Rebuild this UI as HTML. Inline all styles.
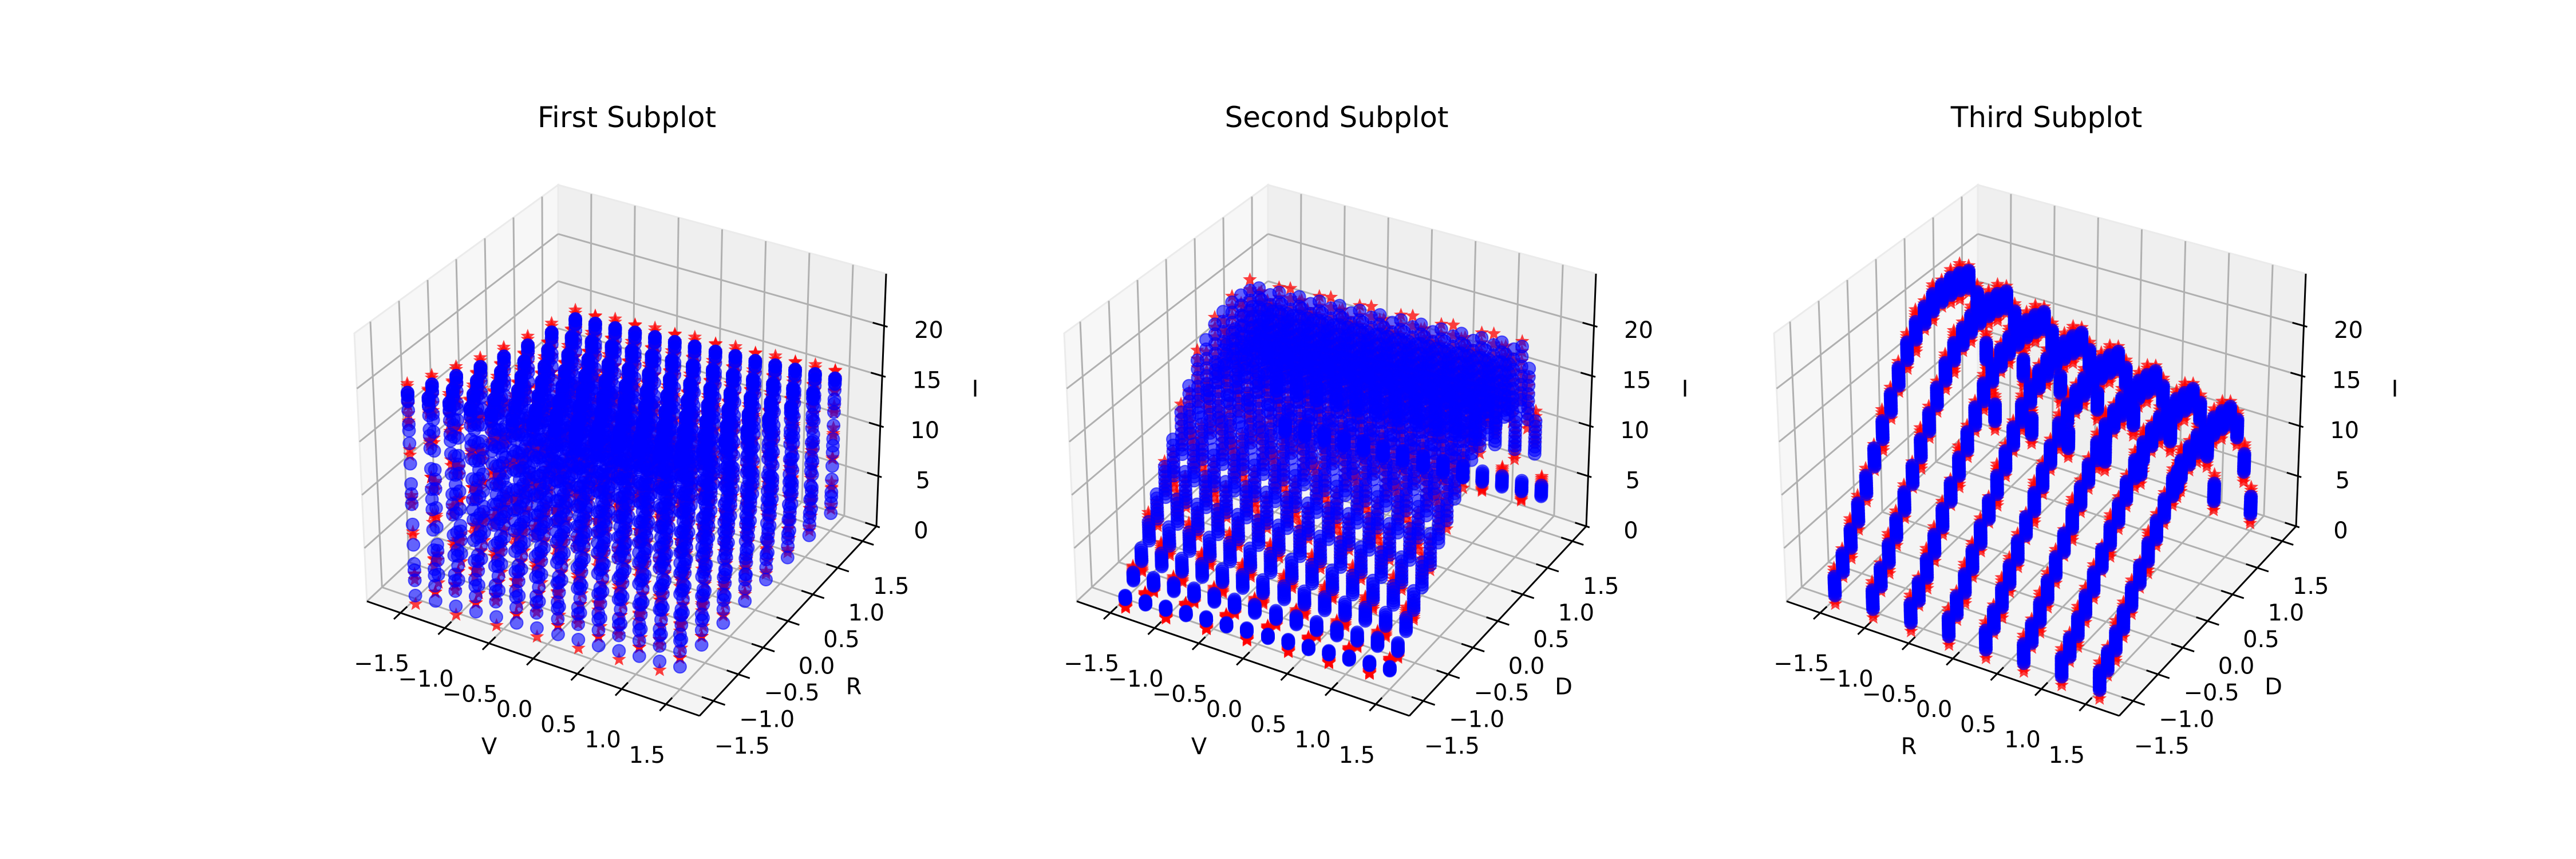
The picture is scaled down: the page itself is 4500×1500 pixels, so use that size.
<!DOCTYPE html>
<html><head><meta charset="utf-8"><style>
html,body{margin:0;padding:0;background:#fff;}
svg{display:block;font-family:"DejaVu Sans","Liberation Sans",sans-serif;}
</style></head><body>
<svg id="fig" xmlns="http://www.w3.org/2000/svg" width="4500" height="1500" viewBox="0 0 4500 1500">
<rect x="0" y="0" width="4500" height="1500" fill="#ffffff"/>
</svg>
<script>
// ---- data (standardised grid levels and measured I profiles) ----
const vLevels = [-1.5,-1.27,-1.04,-0.81,-0.58,-0.35,-0.12,0.12,0.35,0.58,0.81,1.04,1.27,1.5];
const rLevels = [-1.5,-1.07,-0.64,-0.21,0.21,0.64,1.07,1.5];
const dLevels = [-1.5,-1.34,-1.18,-1.03,-0.87,-0.71,-0.55,-0.39,-0.24,-0.08,0.08,0.24,0.39,0.55,0.71,0.87,1.03,1.18,1.34,1.5];
const dProfile = [1,2.2,3.5,5,6.6,8.2,9.8,11.4,13,14.5,15.6,16.3,16.8,17,17,16.8,16.4,14,9,3];
const rScale = [1.2,1.14,1.08,1.02,0.97,0.92,0.88,0.84];
const vShift = [-0.9,-0.75,-0.6,-0.45,-0.3,-0.2,-0.05,0.05,0.2,0.3,0.45,0.6,0.75,0.9];
const predOffset = [0.8,-0.6,1.0,-0.9,0.7,-0.5,1.1,-0.8,0.6,-1.0,1.2,-0.7,0.9,-0.6,0.8,-1.1,0.5,-0.9,1.0,0.9];
const xyTicks = [-1.5,-1.0,-0.5,0.0,0.5,1.0,1.5];
const xyTickLabels = ["\u22121.5","\u22121.0","\u22120.5","0.0","0.5","1.0","1.5"];
const zTicks = [0,5,10,15,20];
const zTickLabels = ["0","5","10","15","20"];
const titles = ["First Subplot","Second Subplot","Third Subplot"];
const xLabels = ["V","V","R"];
const yLabels = ["R","D","D"];

const NS = "http://www.w3.org/2000/svg";
const fig = document.getElementById('fig');
const XR=[-1.88,1.88], YR=[-1.78,1.78], ZR=[0,25.2];
const SHIFT=1240;
const C0={c000:[641,1050],c100:[1222,1250],c110:[1531,919],c010:[975,738],
          c001:[619,582],c101:[1224,770],c111:[1548,478],c011:[975,323]};
function lerp(a,b,t){return [a[0]+(b[0]-a[0])*t,a[1]+(b[1]-a[1])*t];}
function P(k,x,y,z){
  const u=(x-XR[0])/(XR[1]-XR[0]), w=(y-YR[0])/(YR[1]-YR[0]), t=(z-ZR[0])/(ZR[1]-ZR[0]);
  const b=lerp(lerp(C0.c000,C0.c100,u),lerp(C0.c010,C0.c110,u),w);
  const tp=lerp(lerp(C0.c001,C0.c101,u),lerp(C0.c011,C0.c111,u),w);
  const p=lerp(b,tp,t);
  return [p[0]+k*SHIFT,p[1]];
}
function el(tag,parent){const e=document.createElementNS(NS,tag);parent.appendChild(e);return e;}
function line(g,a,b,col,w){const e=el('line',g);e.setAttribute('x1',a[0].toFixed(1));e.setAttribute('y1',a[1].toFixed(1));e.setAttribute('x2',b[0].toFixed(1));e.setAttribute('y2',b[1].toFixed(1));e.setAttribute('stroke',col);e.setAttribute('stroke-width',w);return e;}
function poly(g,pts,fill){const e=el('polygon',g);e.setAttribute('points',pts.map(p=>p[0].toFixed(1)+','+p[1].toFixed(1)).join(' '));e.setAttribute('fill',fill);e.setAttribute('stroke','#ebebeb');e.setAttribute('stroke-width','3');return e;}
function text(g,s,p,size,anchor){const e=el('text',g);e.setAttribute('x',p[0].toFixed(1));e.setAttribute('y',p[1].toFixed(1));e.setAttribute('font-size',size);e.setAttribute('text-anchor',anchor||'middle');e.setAttribute('dominant-baseline','central');e.setAttribute('fill','#000');e.textContent=s;return e;}
function starPath(cx,cy,R,r){let d='';for(let i=0;i<10;i++){const a=-Math.PI/2+i*Math.PI/5;const rr=i%2?r:R;d+=(i?'L':'M')+(cx+rr*Math.cos(a)).toFixed(1)+' '+(cy+rr*Math.sin(a)).toFixed(1);}return d+'Z';}

function drawAxes(k){
  const g=el('g',fig);
  
  
  const [x0,x1]=XR,[y0,y1]=YR,[z0,z1]=ZR;
  const t=text(g,titles[k],[1095+k*SHIFT,205],50);
  
  
  const panes=el('g',g);
  
  
  poly(panes,[P(k,x0,y0,z0),P(k,x1,y0,z0),P(k,x1,y1,z0),P(k,x0,y1,z0)],'#f4f4f4');
  poly(panes,[P(k,x0,y0,z0),P(k,x0,y1,z0),P(k,x0,y1,z1),P(k,x0,y0,z1)],'#f7f7f7');
  poly(panes,[P(k,x0,y1,z0),P(k,x1,y1,z0),P(k,x1,y1,z1),P(k,x0,y1,z1)],'#efefef');
  const grid=el('g',g);
  
  
  const gc='#b0b0b0',gw=3;
  xyTicks.forEach(v=>{
    line(grid,P(k,v,y0,z0),P(k,v,y1,z0),gc,gw);
    line(grid,P(k,v,y1,z0),P(k,v,y1,z1),gc,gw);
    line(grid,P(k,x0,v,z0),P(k,x1,v,z0),gc,gw);
    line(grid,P(k,x0,v,z0),P(k,x0,v,z1),gc,gw);
  });
  zTicks.forEach(v=>{
    line(grid,P(k,x0,y0,v),P(k,x0,y1,v),gc,gw);
    line(grid,P(k,x0,y1,v),P(k,x1,y1,v),gc,gw);
  });
  const ax=el('g',g);
  
  
  line(ax,P(k,x0,y0,z0),P(k,x1,y0,z0),'#000',3);
  line(ax,P(k,x1,y0,z0),P(k,x1,y1,z0),'#000',3);
  line(ax,P(k,x1,y1,z0),P(k,x1,y1,z1),'#000',3);
  const dy=(y1-y0)*0.035,dx=(x1-x0)*0.035;
  xyTicks.forEach((v,i)=>{
    const a=P(k,v,y0,z0);
    line(ax,P(k,v,y0+dy,z0),P(k,v,y0-dy,z0),'#000',3);
    const tl=text(ax,xyTickLabels[i],[a[0]-33,a[1]+89],40);
    
    
    const b=P(k,x1,v,z0);
    line(ax,P(k,x1-dx,v,z0),P(k,x1+dx,v,z0),'#000',3);
    const yl=text(ax,xyTickLabels[i],[b[0]+50,b[1]+79],40);
    
    
  });
  zTicks.forEach((v,i)=>{
    const a=P(k,x1,y1,v);
    line(ax,P(k,x1-dx,y1,v),P(k,x1+dx*0.3,y1,v),'#000',3);
    const zl=text(ax,zTickLabels[i],[a[0]+78,a[1]+8],40);
    
    
  });
  const xm=P(k,0,y0,z0), ym=P(k,x1,0,z0), zm=P(k,x1,y1,12.6);
  const xt=text(ax,xLabels[k],[xm[0]-77,xm[1]+154],40);
  
  
  const yt=text(ax,yLabels[k],[ym[0]+115,ym[1]+115],40);
  
  
  const zt=text(ax,'I',[zm[0]+164,zm[1]-19],40);
  
  
  return g;
}

function points(k){
  const pts=[];
  for(let a=0;a<vLevels.length;a++)for(let b=0;b<rLevels.length;b++)for(let c=0;c<dLevels.length;c++){
    const I=dProfile[c]*rScale[b]+vShift[a];
    const Ip=I+predOffset[c]*(a%2?1:-1);
    let x,y;
    if(k===0){x=vLevels[a];y=rLevels[b];}
    else if(k===1){x=vLevels[a];y=dLevels[c];}
    else {x=rLevels[b];y=dLevels[c];}
    pts.push({x,y,I,Ip});
  }
  const dep=p=>((p.x-XR[0])/(XR[1]-XR[0]))*0.5-((p.y-YR[0])/(YR[1]-YR[0]))*0.87+(p.I/ZR[1])*0.3;
  pts.sort((p,q)=>dep(p)-dep(q));
  return pts;
}

for(let k=0;k<3;k++){
  const g=drawAxes(k);
  const pts=points(k);
  const red=el('g',g);
  
  
  red.setAttribute('fill','#ff0000');
  red.setAttribute('fill-opacity','0.75');
  const blue=el('g',g);
  
  
  blue.setAttribute('fill','#0000ff');
  blue.setAttribute('fill-opacity','0.6');
  blue.setAttribute('stroke','#0000ff');
  blue.setAttribute('stroke-opacity','0.6');
  blue.setAttribute('stroke-width','2');
  pts.forEach(p=>{
    const q=P(k,p.x,p.y,p.Ip);
    const s=el('path',red);
    s.setAttribute('d',starPath(q[0],q[1],13,5.5));
    
    
  });
  pts.forEach(p=>{
    const q=P(k,p.x,p.y,p.I);
    const c=el('circle',blue);
    c.setAttribute('cx',q[0].toFixed(1));
    c.setAttribute('cy',q[1].toFixed(1));
    c.setAttribute('r','11');
    
    
  });
}
</script>
</body></html>
